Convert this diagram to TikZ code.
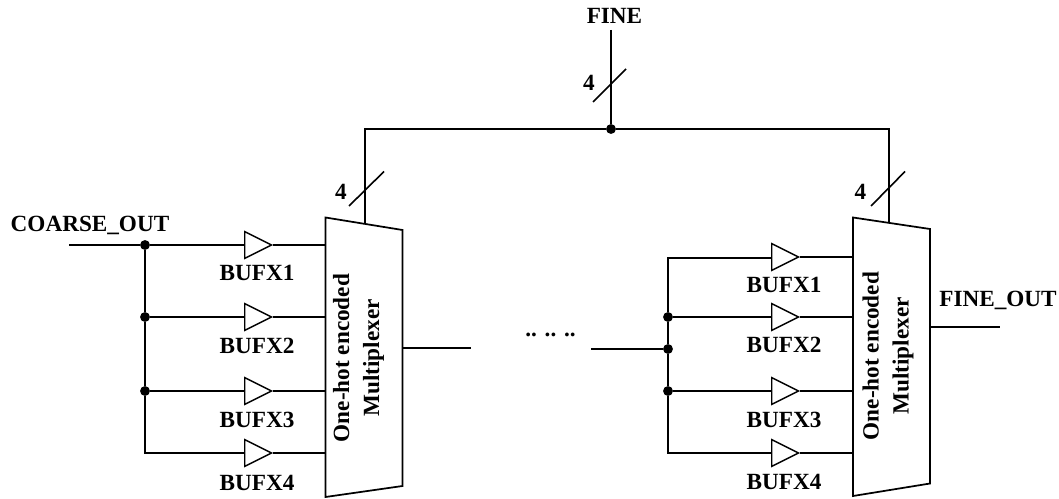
\documentclass[tikz,border=0pt]{standalone}
\usepackage{fontspec}
\setmainfont{Liberation Serif}
\usetikzlibrary{shapes.geometric}
\tikzset{
  x=0.75pt,y=-0.75pt,
  wire/.style={line width=1.3pt,line join=miter},
  thinw/.style={line width=1.2pt},
  dotj/.style={circle,fill=black,inner sep=0pt,minimum size=7.4pt},
  buf/.style={isosceles triangle,isosceles triangle stretches=true,draw,line width=1.1pt,fill=white,minimum width=20pt,minimum height=20pt,inner sep=0pt,anchor=west},
  lab/.style={font=\bfseries\fontsize{17.4pt}{22.5pt}\selectfont,inner sep=0pt},
  muxlab/.style={lab,rotate=90,align=center}
}
\begin{document}
\begin{tikzpicture}
\useasboundingbox (0,0) rectangle (1059,499);
% left mux
\draw[wire] (325.5,217.5) coordinate (ml1) -- (402.5,230) coordinate (ml2) -- (402.5,486) coordinate (ml3) -- (325.5,497) coordinate (ml4) -- cycle;
% right mux
\draw[wire] (853,217.5) coordinate (mr1) -- (930,229) coordinate (mr2) -- (930,483.5) coordinate (mr3) -- (853,496) coordinate (mr4) -- cycle;
\node[muxlab] (ml) at (358.5,358) {One-hot encoded\\Multiplexer};
\node[muxlab] (mr) at (888,356) {One-hot encoded\\Multiplexer};
% left buffers
\node[buf] (a1) at (244,245) {};
\node[buf] (a2) at (244,317) {};
\node[buf] (a3) at (244,391) {};
\node[buf] (a4) at (244,453) {};
\node[dotj] (ja1) at (145,245) {};
\node[dotj] (ja2) at (145,317) {};
\node[dotj] (ja3) at (145,391) {};
\coordinate (ja4) at (145,453);
\coordinate (cin) at (69,245);
\draw[wire] (cin) -- (ja1) -- (a1.west);
\draw[wire] (ja2) -- (a2.west);
\draw[wire] (ja3) -- (a3.west);
\draw[wire] (ja1) -- (ja2) -- (ja3) -- (ja4) -- (a4.west);
\foreach \n/\y in {1/245,2/317,3/391,4/453}{
  \coordinate (ia\n) at (325.5,\y);
  \draw[wire] (a\n.east) -- (ia\n);
}
% right buffers
\node[buf] (b1) at (771,257) {};
\node[buf] (b2) at (771,317) {};
\node[buf] (b3) at (771,391) {};
\node[buf] (b4) at (771,453) {};
\node[dotj] (jb2) at (668,317) {};
\node[dotj] (jbm) at (668,349) {};
\node[dotj] (jb3) at (668,391) {};
\coordinate (jb1) at (668,258);
\coordinate (b1in) at (771,258);
\coordinate (jb4) at (668,453);
\draw[wire] (b1in) -- (jb1) -- (jb2) -- (jbm) -- (jb3) -- (jb4) -- (b4.west);
\draw[wire] (jb2) -- (b2.west);
\draw[wire] (jb3) -- (b3.west);
\coordinate (binl) at (591,349);
\draw[wire] (binl) -- (jbm);
\foreach \n/\y in {1/257,2/317,3/391,4/453}{
  \coordinate (ib\n) at (853,\y);
  \draw[wire] (b\n.east) -- (ib\n);
}
% outputs
\coordinate (o1a) at (402.5,348);
\coordinate (o1b) at (471,348);
\draw[wire] (o1a) -- (o1b);
\coordinate (o2a) at (930,327);
\coordinate (o2b) at (1000,327);
\draw[wire] (o2a) -- (o2b);
% FINE bus
\node[dotj] (jt) at (611,129) {};
\coordinate (ft) at (611,30);
\coordinate (sl) at (365,223.8);
\coordinate (sr) at (889,222.5);
\draw[wire] (ft) -- (jt);
\draw[wire] (sl) -- (365,129) -- (jt) -- (889,129) -- (sr);
% slashes
\coordinate (s1a) at (593,102); \coordinate (s1b) at (626,69);
\coordinate (s2a) at (349,206); \coordinate (s2b) at (384,171.5);
\coordinate (s3a) at (871,206); \coordinate (s3b) at (905,171.5);
\draw[thinw] (s1a) -- (s1b);
\draw[thinw] (s2a) -- (s2b);
\draw[thinw] (s3a) -- (s3b);
% labels
\node[lab] (lf) at (614.5,16) {FINE};
\node[lab] (l4a) at (589,83) {4};
\node[lab] (l4b) at (341,192) {4};
\node[lab] (l4c) at (860.5,192) {4};
\node[lab] (lc) at (90,225) {COARSE\_OUT};
\node[lab] (lo) at (998,300) {FINE\_OUT};
\node[lab] (ldots) at (550.5,335) {.. .. ..};
\foreach \n/\y in {1/273,2/346,3/420,4/483}{
  \node[lab] (la\n) at (257,\y) {BUFX\n};
}
\foreach \n/\y in {1/285,2/345,3/420,4/482}{
  \node[lab] (lb\n) at (784,\y) {BUFX\n};
}
\end{tikzpicture}
\end{document}
